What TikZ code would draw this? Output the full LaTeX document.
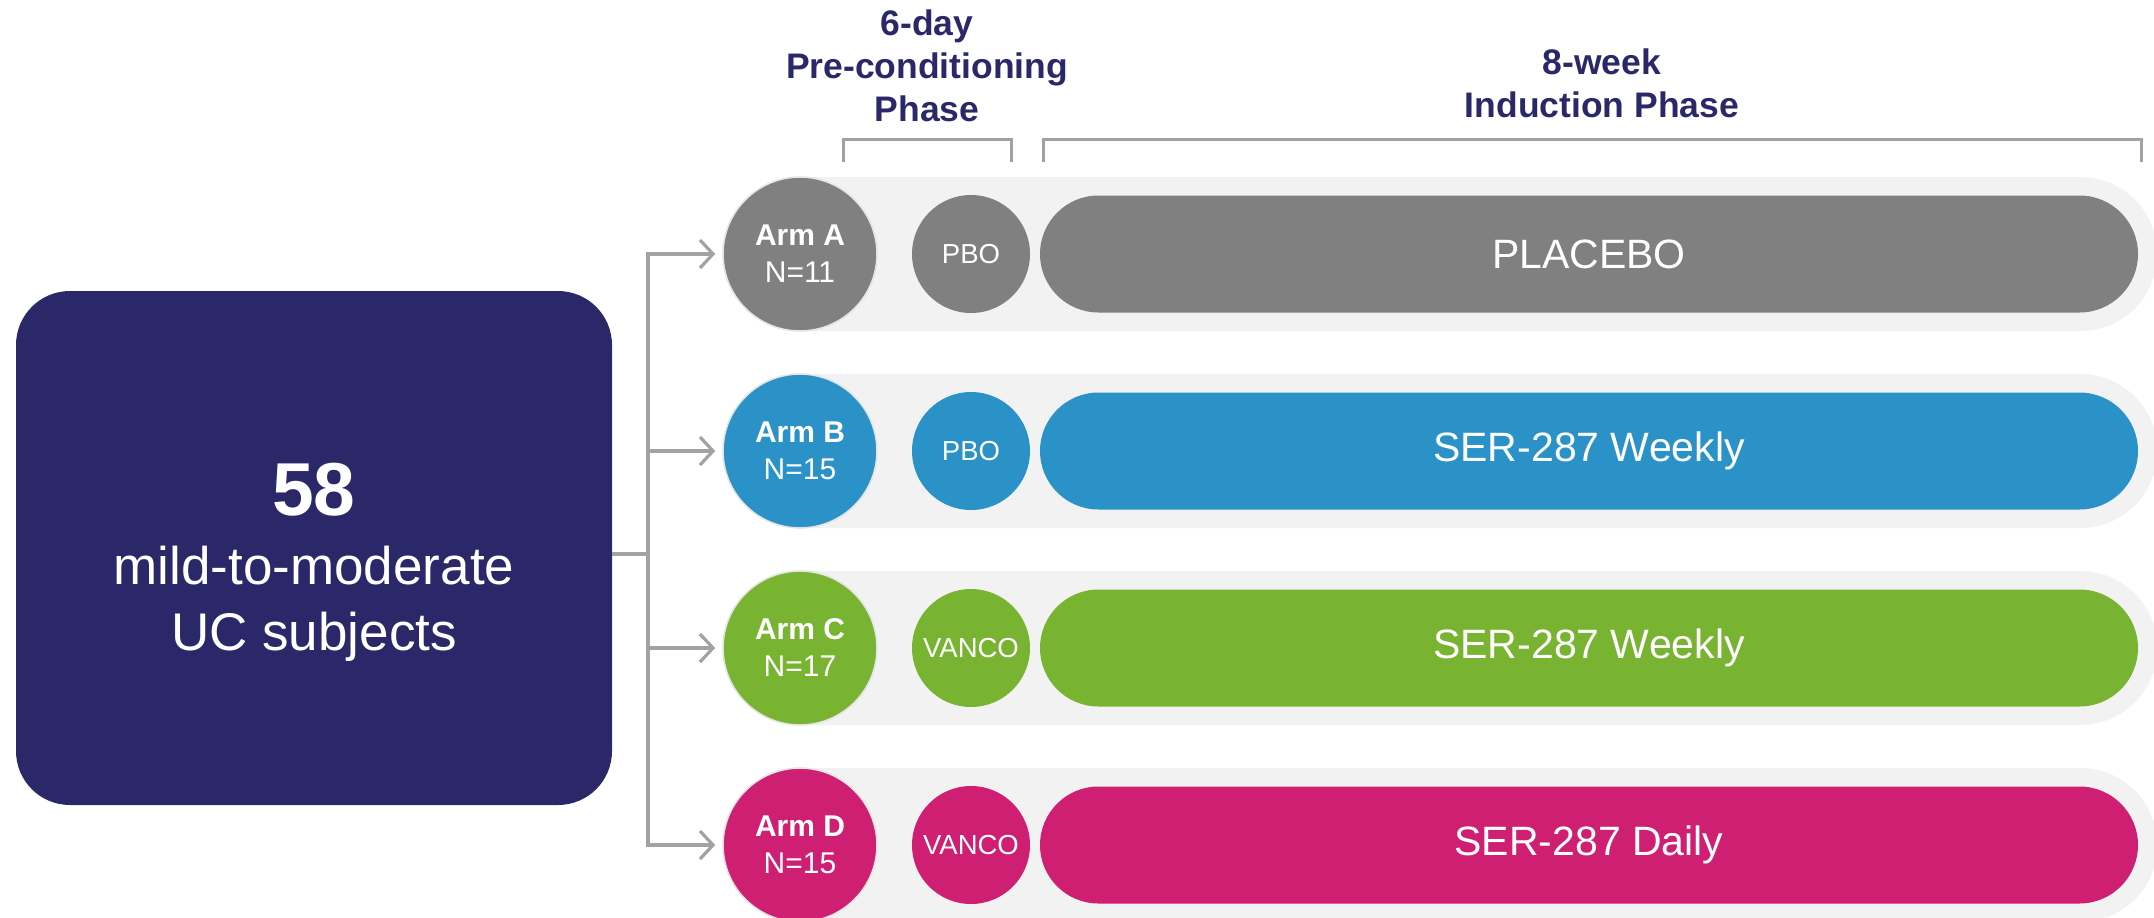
\documentclass[tikz,border=0pt]{standalone}
\usepackage{fontspec}
\setmainfont{Liberation Sans}
\usetikzlibrary{arrows.meta,shapes.misc,positioning}
\definecolor{navy}{HTML}{2A2868}
\definecolor{armgray}{HTML}{808080}
\definecolor{armblue}{HTML}{2B92C8}
\definecolor{armgreen}{HTML}{78B431}
\definecolor{armpink}{HTML}{CE1F72}
\definecolor{stripgray}{HTML}{F2F2F2}
\definecolor{linegray}{HTML}{A2A2A6}

\begin{document}
\begin{tikzpicture}[x=0.5pt,y=-0.5pt,
    subjbox/.style={fill=navy, rounded corners=27pt, minimum width=298pt, minimum height=257pt, inner sep=0pt},
    subjtext/.style={text=white, align=center, font=\fontsize{26.5}{33}\selectfont},
    strip/.style={rounded rectangle, rounded rectangle left arc=none, fill=stripgray, minimum height=77pt, minimum width=678.5pt, inner sep=0pt, anchor=west},
    armdot/.style={circle, draw=white!90!black, line width=0.8pt, minimum size=77pt, inner sep=0pt, text=white, align=center, font=\fontsize{15}{18.5}\selectfont},
    predot/.style={circle, minimum size=59pt, inner sep=0pt, text=white, font=\fontsize{13.75}{16}\selectfont},
    bar/.style={rounded rectangle, minimum height=58.5pt, minimum width=549pt, inner sep=0pt, text=white, font=\fontsize{20.5}{24}\selectfont},
    phase/.style={text=navy, align=center, font=\bfseries\fontsize{17.75}{21.5}\selectfont},
    conn/.style={draw=linegray, line width=1.6pt},
    brace/.style={draw=linegray, line width=1.5pt}]
    \useasboundingbox (0,0) rectangle (2154,917);

    % phase headers
    \node[phase] (prehead) at (927,66) {6-day\\Pre-conditioning\\Phase};
    \node[phase] (indhead) at (1602,83) {8-week\\Induction Phase};
    \draw[brace] (843,162) |- (1011,139) -- (1011,162);
    \draw[brace] (1043,162) |- (2141,139) -- (2141,162);

    % subjects
    \node[subjbox] (subj) at (314,548) {};
    \node[subjtext] (subjtxt) at (314,562) {{\bfseries\fontsize{37.5}{40}\selectfont 58}\\[1.5pt]mild-to-moderate\\UC subjects};

    % arms
    \foreach \arm/\cnt/\col/\pre/\drug [count=\i] in {A/11/armgray/PBO/PLACEBO, B/15/armblue/PBO/SER-287 Weekly, C/17/armgreen/VANCO/SER-287 Weekly, D/15/armpink/VANCO/SER-287 Daily}
    {
      \pgfmathsetmacro\cy{254+197*(\i-1)}
      \node[strip] (strip\arm) at (800,\cy) {};
      \node[armdot, fill=\col] (arm\arm) at (800,\cy) {\textbf{Arm \arm}\\N=\cnt};
      \node[predot, fill=\col] (pre\arm) at (971,\cy) {\pre};
      \node[bar, fill=\col] (bar\arm) at (1589,\cy) {\drug};
    }

    % randomisation
    \coordinate (fork) at (648,554);
    \draw[conn] (subj.east |- fork) -- (fork);
    \draw[conn, line join=miter, {Straight Barb[length=6.5pt,width=14pt]}-{Straight Barb[length=6.5pt,width=14pt]}, shorten <=3.5pt, shorten >=3.5pt]
      (armA.west) -| (fork |- armD.west) -- (armD.west);
    \foreach \arm in {B,C}
      \draw[conn, -{Straight Barb[length=6.5pt,width=14pt]}, shorten >=3.5pt] (fork |- arm\arm.west) -- (arm\arm.west);
\end{tikzpicture}
\end{document}
